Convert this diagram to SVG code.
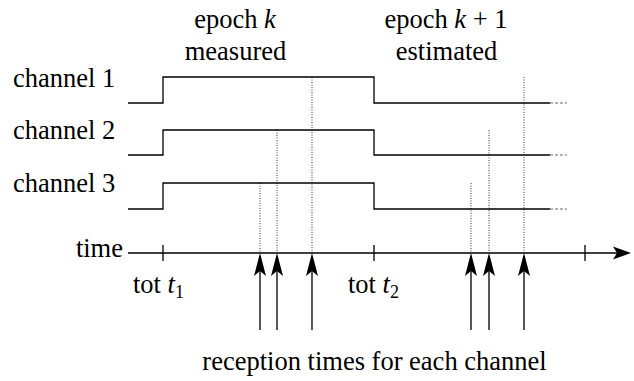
<svg xmlns="http://www.w3.org/2000/svg" width="634" height="381" viewBox="0 0 634 381">
<style>
.t{font-family:"Liberation Serif","Times New Roman",serif;font-size:26.5px;fill:#000}
.it{font-style:italic}
.sig{fill:none;stroke:#000;stroke-width:1.3}
.fade{fill:none;stroke:#999;stroke-width:1.3;stroke-dasharray:3 2}
.dot{fill:none;stroke:#000;stroke-width:0.8;stroke-dasharray:1 1.5}
.ax{fill:none;stroke:#000;stroke-width:1.3}
.head{fill:#000;stroke:none}
</style>
<defs>
<path id="uparrow" class="head" d="M0,0 L6,23 L0,18 L-6,23 Z"/>
</defs>
<rect width="634" height="381" fill="#fff"/>
<g id="labels" class="t">
<text x="235" y="28" text-anchor="middle">epoch <tspan class="it">k</tspan></text>
<text x="235.5" y="60" text-anchor="middle">measured</text>
<text x="446" y="28" text-anchor="middle">epoch <tspan class="it">k</tspan> + 1</text>
<text x="446.5" y="60" text-anchor="middle">estimated</text>
</g>
<g id="channel1">
<text class="t" x="13" y="87">channel 1</text>
<path class="sig" d="M128,103 H163 V77 H374 V103 H550"/>
<path class="fade" d="M550,103 H567"/>
</g>
<g id="channel2">
<text class="t" x="13" y="139">channel 2</text>
<path class="sig" d="M128,155 H163 V130 H374 V155 H550"/>
<path class="fade" d="M550,155 H567"/>
</g>
<g id="channel3">
<text class="t" x="13" y="192">channel 3</text>
<path class="sig" d="M128,209 H163 V183 H374 V209 H550"/>
<path class="fade" d="M550,209 H567"/>
</g>
<g id="time-axis">
<text class="t" x="123" y="257" text-anchor="end">time</text>
<path class="ax" d="M128,253 H618 M163,245 V261 M374,245 V261 M585,245 V261"/>
<path class="head" d="M631,253 L613,246.5 L617,253 L613,259.5 Z"/>
<text class="t" x="133" y="293">tot <tspan class="it">t</tspan><tspan font-size="18" dy="5">1</tspan></text>
<text class="t" x="348" y="293">tot <tspan class="it">t</tspan><tspan font-size="18" dy="5">2</tspan></text>
</g>
<g id="connectors">
<path class="dot" d="M260,183 V253 M277,130 V253 M312,77 V253 M471,183 V253 M489,130 V253 M524,77 V253"/>
<path class="ax" d="M260,330 V270 M277,330 V270 M312,330 V270 M471,330 V270 M489,330 V270 M524,330 V270"/>
<use href="#uparrow" x="260" y="253"/>
<use href="#uparrow" x="277" y="253"/>
<use href="#uparrow" x="312" y="253"/>
<use href="#uparrow" x="471" y="253"/>
<use href="#uparrow" x="489" y="253"/>
<use href="#uparrow" x="524" y="253"/>
</g>
<g id="caption">
<text class="t" x="374.5" y="370" text-anchor="middle">reception times for each channel</text>
</g>
</svg>
